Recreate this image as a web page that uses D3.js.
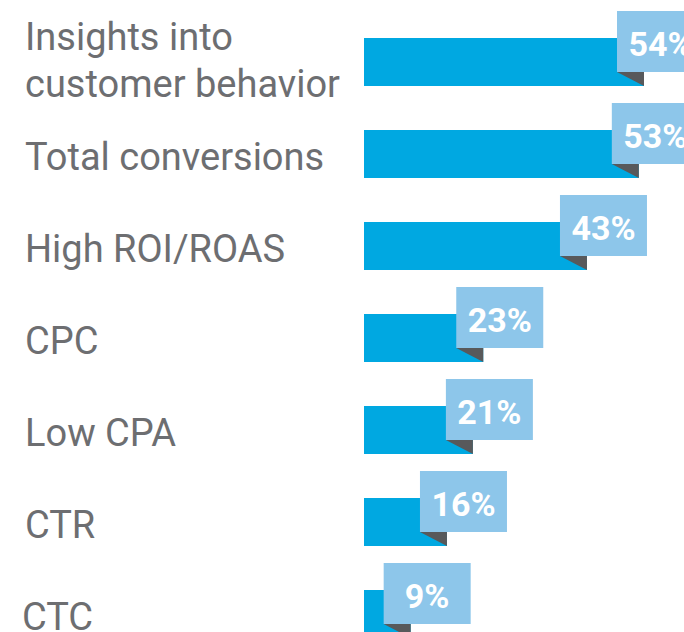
<!DOCTYPE html>
<html>
<head>
<meta charset="utf-8">
<script src="https://cdn.jsdelivr.net/npm/d3@7"></script>
<style>
  html, body { margin: 0; padding: 0; background: #fff; }
  svg { display: block; }
</style>
</head>
<body>
<div id="container"></div>
<script>
const WIDTH = 684;
const HEIGHT = 632;

// chart data
var categories = [["Insights into", "customer behavior"], ["Total conversions"], ["High ROI/ROAS"],
    ["CPC"], ["Low CPA"], ["CTR"], ["CTC"]];
var values = [54, 53, 43, 23, 21, 16, 9];
var valueLabels = ["54%", "53%", "43%", "23%", "21%", "16%", "9%"];

const BAR_LEFT = 364;
const BAR_H = 48;
const BOX_W = 87;
const BOX_H = 61;
const BOX_BACK = 27;   // box starts this far before the bar end
const BOX_UP = 27;     // box top sits this far above the bar top

var translate = function (x, y) {
    return "translate(" + x + "," + y + ")";
};

var svg = d3.select("#container")
    .append("svg")
    .attr("width", WIDTH)
    .attr("height", HEIGHT);

var rows = d3.range(values.length);

var yScale = d3.scaleBand().domain(rows).range([38, 38 + 92 * values.length]).paddingInner(0).paddingOuter(0);
var xScale = d3.scaleLinear().domain([0, 54]).range([0, 280]);

var row = svg.selectAll("g.row").data(rows)
    .enter()
    .append("g")
    .attr("class", "row")
    .attr("transform", function (i) { return translate(0, yScale(i)); });

// labels on the left
row.append("text")
    .attr("fill", "#6d6e71")
    .style("font-family", "Roboto, sans-serif")
    .style("font-size", "38px")
    .each(function (i) {
        var lines = categories[i];
        var t = d3.select(this);
        var startY = lines.length > 1 ? 12 : 40;
        lines.forEach(function (s, k) {
            t.append("tspan")
                .attr("x", i === values.length - 1 ? 22 : 25)
                .attr("y", startY + k * 47)
                .text(s);
        });
    });

// blue bars
row.append("rect")
    .attr("x", BAR_LEFT)
    .attr("y", 0)
    .attr("width", function (i) { return xScale(values[i]); })
    .attr("height", BAR_H)
    .attr("fill", "#00a8e1");

// dark fold under the box
row.append("path")
    .attr("d", function (i) {
        var end = BAR_LEFT + xScale(values[i]);
        var top = BOX_H - BOX_UP;
        return "M" + (end - BOX_BACK) + "," + top + "L" + end + "," + top + "L" + end + "," + BAR_H + "Z";
    })
    .attr("fill", "#58595b");

// value boxes
row.append("rect")
    .attr("x", function (i) { return BAR_LEFT + xScale(values[i]) - BOX_BACK; })
    .attr("y", -BOX_UP)
    .attr("width", BOX_W)
    .attr("height", BOX_H)
    .attr("fill", "#8dc6ea");

row.append("text")
    .attr("x", function (i) { return BAR_LEFT + xScale(values[i]) - BOX_BACK + BOX_W / 2; })
    .attr("y", -BOX_UP + 45)
    .attr("text-anchor", "middle")
    .attr("fill", "#ffffff")
    .style("font-family", "Roboto, sans-serif")
    .style("font-weight", "700")
    .style("font-size", "34px")
    .text(function (i) { return valueLabels[i]; });
</script>
</body>
</html>
